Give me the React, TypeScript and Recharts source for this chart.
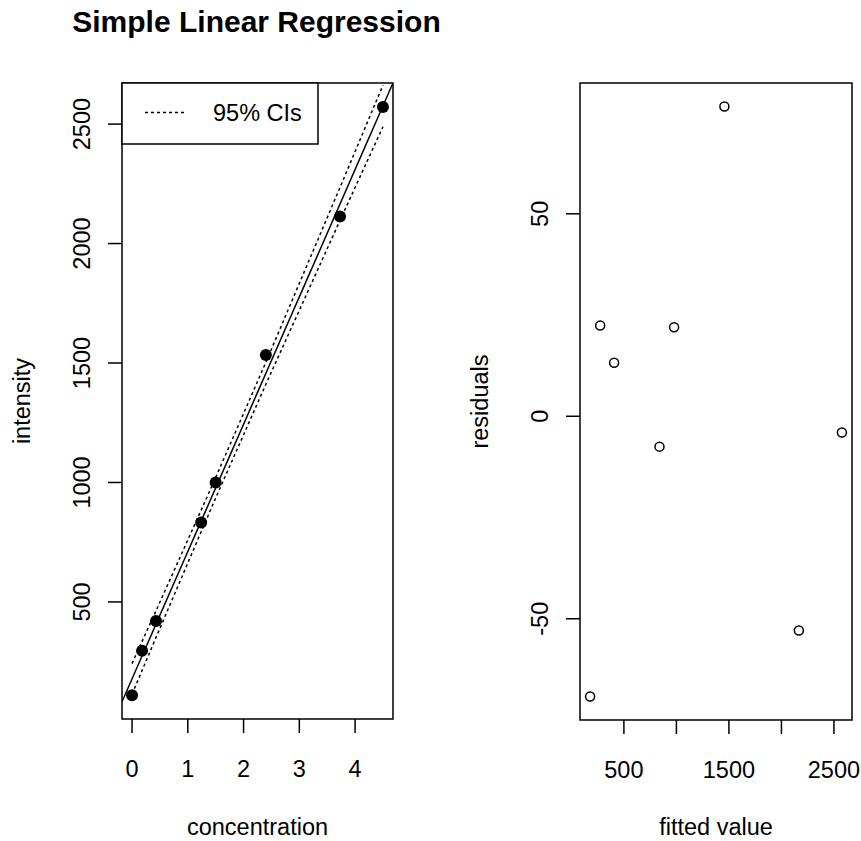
import React from 'react';
import { ComposedChart, Scatter, Line, XAxis, YAxis, ReferenceArea, Legend } from 'recharts';

// ---- data ----
const concentration = [0, 0.18, 0.43, 1.24, 1.5, 2.4, 3.73, 4.5];
const intensity = [109, 296, 420, 832, 1000, 1534, 2113, 2572];
const ciUpper = [242, 335, 463, 884, 1021, 1503, 2235, 2663];
const ciLower = [114, 213, 351, 794, 935, 1411, 2097, 2489];
const fitLineX = [-0.18, 4.68];
const fitLineY = [82, 2672];

const fittedValues = [178, 274, 407, 839, 978, 1457, 2166, 2576];
const residuals = [-69.2, 22.4, 13.2, -7.5, 22.0, 76.5, -52.9, -4.0];

const concentrationTicks = [0, 1, 2, 3, 4];
const intensityTicks = [500, 1000, 1500, 2000, 2500];
const fittedTicks = [500, 1000, 1500, 2000, 2500];
const fittedTickLabels = [500, 1500, 2500];
const residualTicks = [-50, 0, 50];

const leftXDomain = [-0.18, 4.68];
const leftYDomain = [10, 2672];
const rightXDomain = [82, 2672];
const rightYDomain = [-75, 82.3];

const titleText = 'Simple Linear Regression';
const legendText = '95% CIs';

// ---- built tables ----
const pointData = concentration.map((x, i) => ({ x, y: intensity[i] }));
const upperData = concentration.map((x, i) => ({ x, y: ciUpper[i] }));
const lowerData = concentration.map((x, i) => ({ x, y: ciLower[i] }));
const fitData = fitLineX.map((x, i) => ({ x, y: fitLineY[i] }));
const residData = fittedValues.map((x, i) => ({ x, y: residuals[i] }));

const FONT = '"Liberation Sans", Arial, Helvetica, sans-serif';
const FS = 23.5;
const LW = 1.5;

const makeXTick = (labels?: number[]) => (props: any) => {
  const { x, y, payload } = props;
  if (labels && !labels.includes(payload.value)) return <g />;
  return (
    <text x={x} y={y} dy="0.71em" textAnchor="middle" fontFamily={FONT} fontSize={FS} fill="#000">
      {payload.value}
    </text>
  );
};

const YTick = (props: any) => {
  const { x, y, payload } = props;
  return (
    <text x={x} y={y} transform={`rotate(-90, ${x}, ${y})`} textAnchor="middle" fontFamily={FONT} fontSize={FS} fill="#000">
      {payload.value}
    </text>
  );
};

const xLabel = (text: string, off: number) => (props: any) => {
  const vb = props.viewBox;
  return (
    <text x={vb.x + vb.width / 2} y={vb.y + off} textAnchor="middle" fontFamily={FONT} fontSize={FS} fill="#000">
      {text}
    </text>
  );
};

const yLabel = (text: string, off: number) => (props: any) => {
  const vb = props.viewBox;
  const x = vb.x + off;
  const y = vb.y + vb.height / 2;
  return (
    <text x={x} y={y} transform={`rotate(-90, ${x}, ${y})`} textAnchor="middle" fontFamily={FONT} fontSize={FS} fill="#000">
      {text}
    </text>
  );
};

const LegendBox = () => (
  <svg width={198} height={63} style={{ display: 'block' }}>
    <rect x={1} y={1} width={196} height={61} fill="#fff" stroke="#000" strokeWidth={LW} />
    <line x1={24} y1={30.5} x2={66} y2={30.5} stroke="#000" strokeWidth={LW} strokeDasharray="3 3" />
    <text x={92} y={39} fontFamily={FONT} fontSize={FS} fill="#000">{legendText}</text>
  </svg>
);

const tickLineStyle = { stroke: '#000', strokeWidth: LW };

export default function App() {
  return (
    <div style={{ position: 'absolute', left: 0, top: 0, width: 861, height: 841, background: '#fff' }}>
      <svg width={861} height={50} style={{ position: 'absolute', left: 0, top: 0 }}>
        <text x={256.5} y={32} textAnchor="middle" fontFamily={FONT} fontSize={30} fontWeight="bold" fill="#000">
          {titleText}
        </text>
      </svg>

      <div style={{ position: 'absolute', left: 0, top: 0 }}>
        <ComposedChart width={430} height={841} margin={{ top: 83, right: 37, bottom: 0, left: 0 }}>
          <XAxis
            type="number"
            dataKey="x"
            domain={leftXDomain}
            allowDataOverflow
            ticks={concentrationTicks}
            interval={0}
            axisLine={false}
            tickLine={tickLineStyle}
            tickSize={14}
            tickMargin={27}
            tick={makeXTick()}
            height={122}
            label={xLabel('concentration', 116)}
          />
          <YAxis
            type="number"
            domain={leftYDomain}
            allowDataOverflow
            ticks={intensityTicks}
            interval={0}
            axisLine={false}
            tickLine={tickLineStyle}
            tickSize={14}
            tickMargin={18}
            tick={YTick}
            width={122}
            label={yLabel('intensity', 30)}
          />
          <Line data={fitData} dataKey="y" type="linear" stroke="#000" strokeWidth={LW} dot={false} activeDot={false} isAnimationActive={false} />
          <Line data={upperData} dataKey="y" type="linear" stroke="#000" strokeWidth={LW} strokeDasharray="3 3" dot={false} activeDot={false} isAnimationActive={false} />
          <Line data={lowerData} dataKey="y" type="linear" stroke="#000" strokeWidth={LW} strokeDasharray="3 3" dot={false} activeDot={false} isAnimationActive={false} />
          <Scatter
            data={pointData}
            dataKey="y"
            isAnimationActive={false}
            shape={(p: any) => <circle cx={p.cx} cy={p.cy} r={6} fill="#000" />}
          />
          <ReferenceArea
            x1={leftXDomain[0]}
            x2={leftXDomain[1]}
            y1={leftYDomain[0]}
            y2={leftYDomain[1]}
            fill="none"
            fillOpacity={0}
            stroke="#000"
            strokeWidth={LW}
            ifOverflow="visible"
          />
          <Legend
            layout="vertical"
            align="center"
            verticalAlign="middle"
            wrapperStyle={{ position: 'absolute', left: 121, top: 82, width: 198, height: 63 }}
            content={() => <LegendBox />}
          />
        </ComposedChart>
      </div>

      <div style={{ position: 'absolute', left: 430, top: 0 }}>
        <ComposedChart width={431} height={841} margin={{ top: 83, right: 9, bottom: 0, left: 0 }}>
          <XAxis
            type="number"
            dataKey="x"
            domain={rightXDomain}
            allowDataOverflow
            ticks={fittedTicks}
            interval={0}
            axisLine={false}
            tickLine={tickLineStyle}
            tickSize={14}
            tickMargin={27}
            tick={makeXTick(fittedTickLabels)}
            height={121}
            label={xLabel('fitted value', 115)}
          />
          <YAxis
            type="number"
            domain={rightYDomain}
            allowDataOverflow
            ticks={residualTicks}
            interval={0}
            axisLine={false}
            tickLine={tickLineStyle}
            tickSize={14}
            tickMargin={18}
            tick={YTick}
            width={150}
            label={yLabel('residuals', 58)}
          />
          <Scatter
            data={residData}
            dataKey="y"
            isAnimationActive={false}
            shape={(p: any) => <circle cx={p.cx} cy={p.cy} r={4.5} fill="none" stroke="#000" strokeWidth={LW} />}
          />
          <ReferenceArea
            x1={rightXDomain[0]}
            x2={rightXDomain[1]}
            y1={rightYDomain[0]}
            y2={rightYDomain[1]}
            fill="none"
            fillOpacity={0}
            stroke="#000"
            strokeWidth={LW}
            ifOverflow="visible"
          />
        </ComposedChart>
      </div>
    </div>
  );
}
